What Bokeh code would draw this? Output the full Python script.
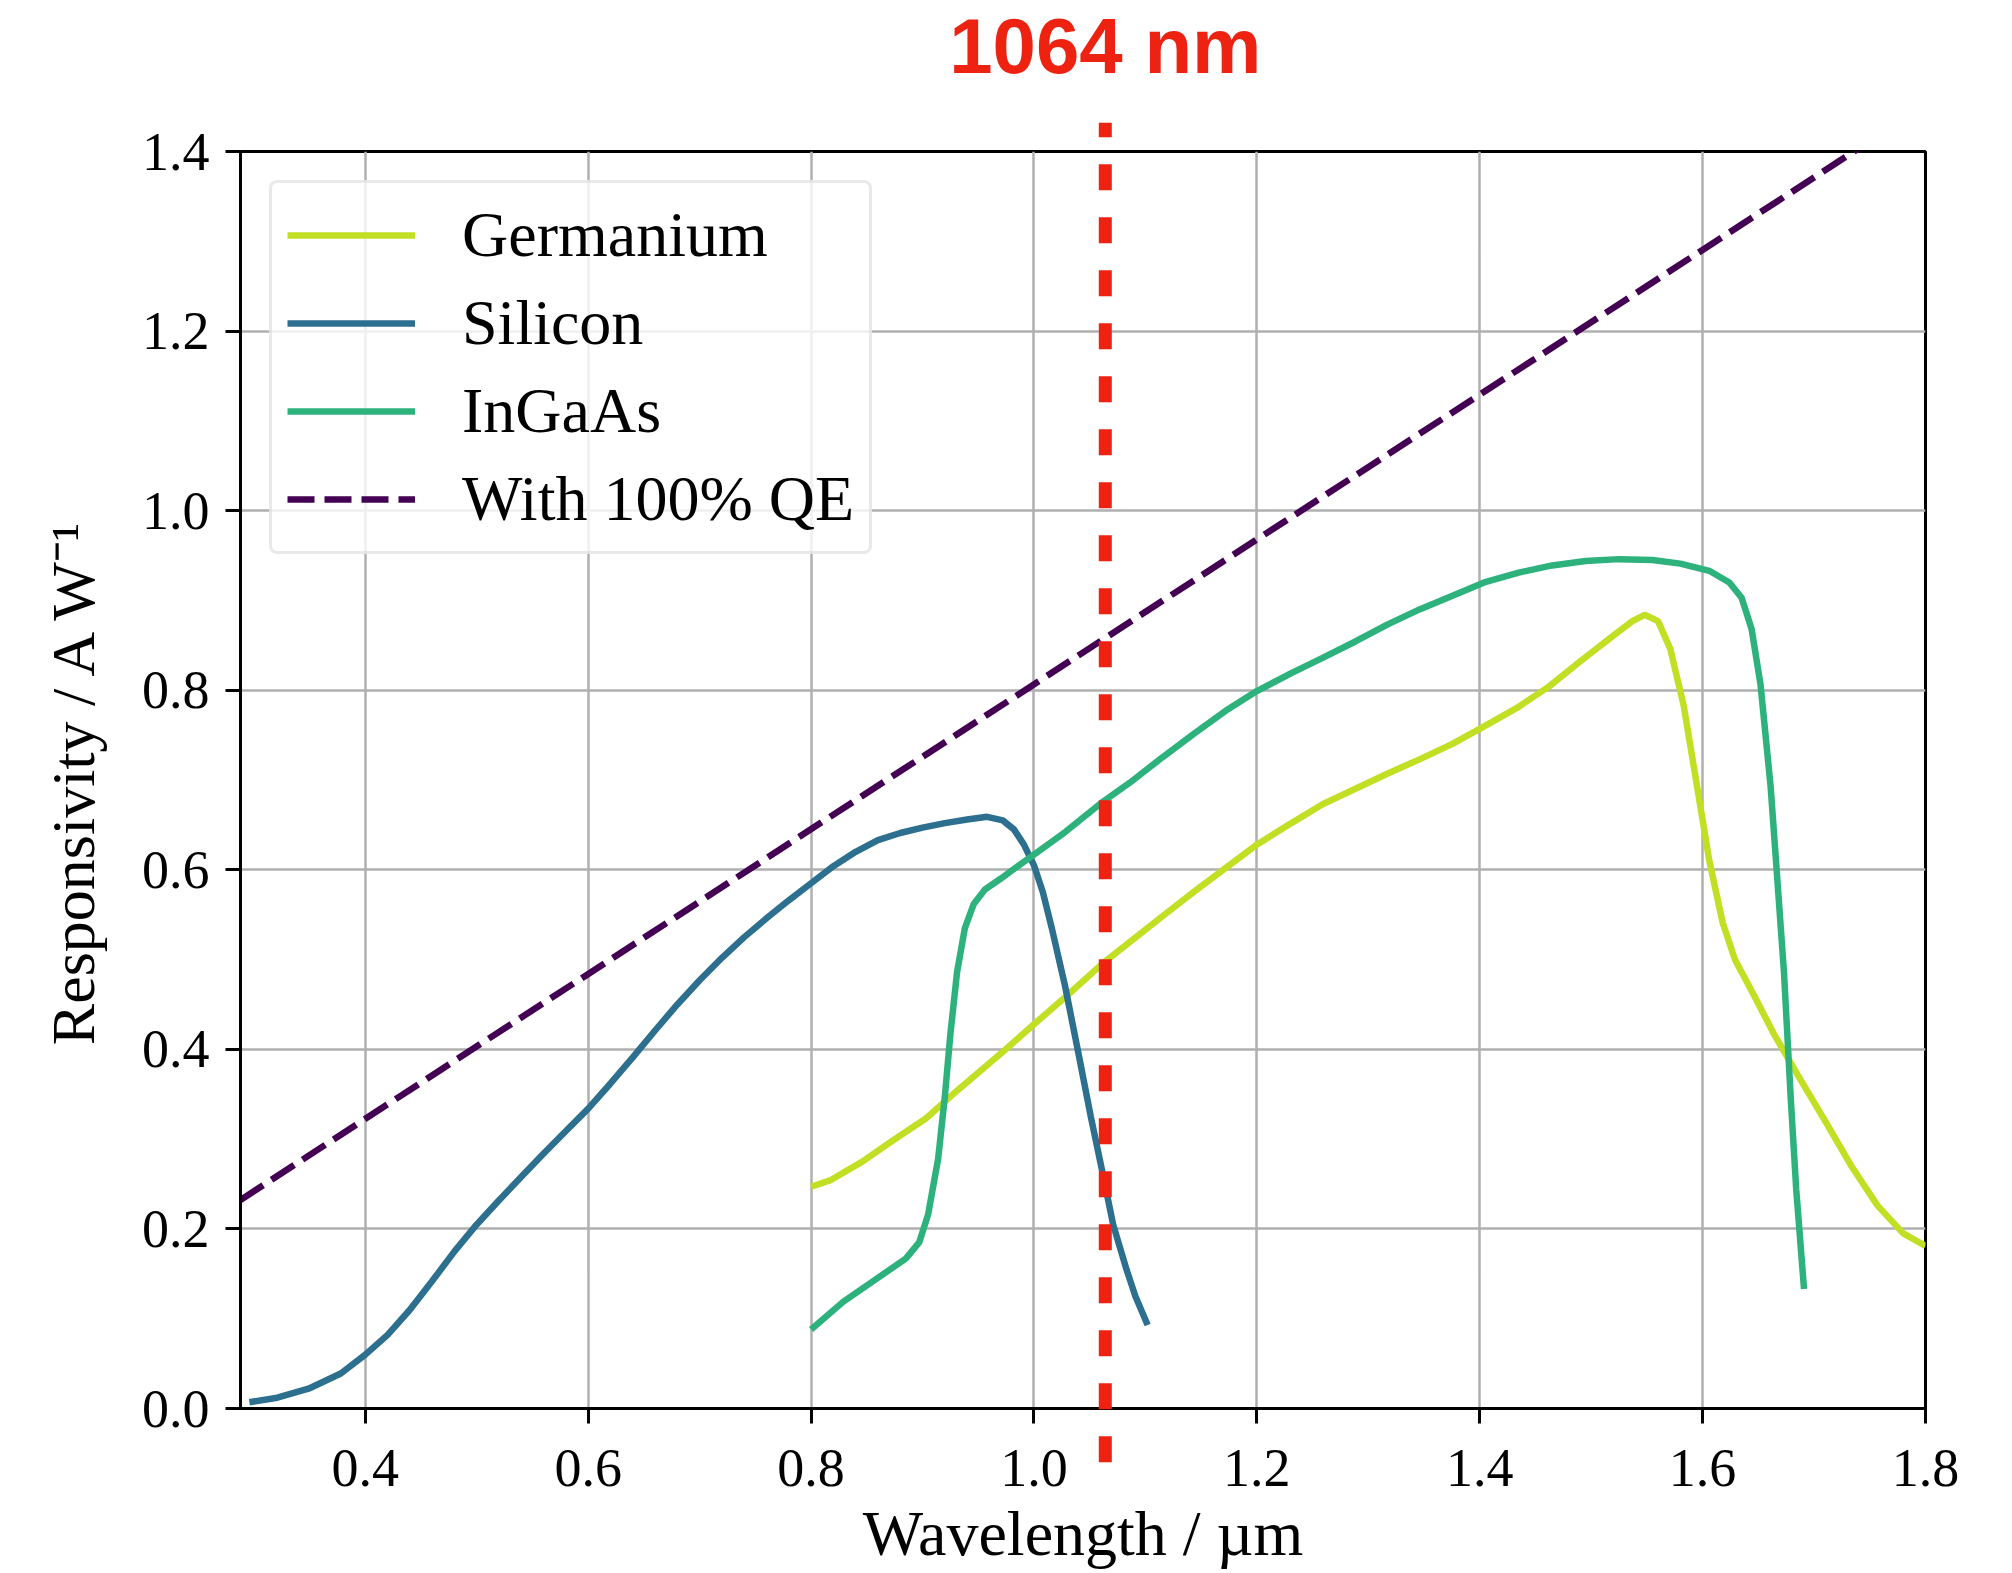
from bokeh.plotting import figure
from bokeh.models import Range1d, FixedTicker, PrintfTickFormatter, Legend, LegendItem
from bokeh.core.properties import value
from bokeh.embed import file_html
from bokeh.resources import INLINE

# ---------------- data ----------------
si_wl = [0.296, 0.321, 0.349, 0.378, 0.400, 0.420, 0.440, 0.460, 0.480, 0.500, 0.520,
         0.540, 0.560, 0.580, 0.600, 0.620, 0.640, 0.660, 0.680, 0.700, 0.720, 0.740,
         0.760, 0.780, 0.800, 0.820, 0.840, 0.860, 0.880, 0.900, 0.920, 0.940, 0.958,
         0.972, 0.982, 0.991, 1.000, 1.008, 1.016, 1.028, 1.040, 1.051, 1.062, 1.071,
         1.083, 1.091, 1.102]
si_resp = [0.007, 0.012, 0.022, 0.039, 0.060, 0.082, 0.110, 0.142, 0.175, 0.205, 0.232,
           0.258, 0.284, 0.309, 0.334, 0.362, 0.391, 0.421, 0.450, 0.477, 0.502, 0.525,
           0.546, 0.566, 0.585, 0.604, 0.620, 0.633, 0.641, 0.647, 0.652, 0.656, 0.659,
           0.655, 0.645, 0.628, 0.605, 0.575, 0.535, 0.470, 0.395, 0.325, 0.260, 0.205,
           0.155, 0.125, 0.093]

ingaas_wl = [0.800, 0.829, 0.857, 0.885, 0.897, 0.905, 0.914, 0.920, 0.925, 0.931, 0.938,
             0.946, 0.956, 0.970, 1.000, 1.028, 1.062, 1.086, 1.115, 1.144, 1.172, 1.200,
             1.231, 1.259, 1.288, 1.317, 1.346, 1.375, 1.404, 1.435, 1.465, 1.495, 1.525,
             1.555, 1.580, 1.606, 1.624, 1.635, 1.644, 1.652, 1.661, 1.667, 1.673, 1.679,
             1.684, 1.691]
ingaas_resp = [0.088, 0.119, 0.143, 0.167, 0.185, 0.216, 0.278, 0.347, 0.417, 0.486, 0.535,
               0.562, 0.578, 0.590, 0.617, 0.642, 0.676, 0.697, 0.725, 0.752, 0.777, 0.799,
               0.819, 0.836, 0.854, 0.873, 0.890, 0.905, 0.920, 0.931, 0.939, 0.944, 0.946,
               0.945, 0.941, 0.933, 0.920, 0.903, 0.868, 0.806, 0.693, 0.590, 0.486, 0.347,
               0.244, 0.133]

ge_wl = [0.800, 0.817, 0.846, 0.874, 0.903, 0.931, 0.970, 1.000, 1.028, 1.062, 1.115,
         1.144, 1.200, 1.231, 1.259, 1.317, 1.346, 1.375, 1.400, 1.433, 1.462, 1.490,
         1.519, 1.537, 1.548, 1.560, 1.571, 1.583, 1.595, 1.606, 1.618, 1.629, 1.647,
         1.664, 1.687, 1.710, 1.733, 1.757, 1.780, 1.800]
ge_resp = [0.247, 0.254, 0.275, 0.299, 0.323, 0.354, 0.395, 0.428, 0.458, 0.496, 0.548,
           0.576, 0.628, 0.652, 0.673, 0.707, 0.723, 0.740, 0.757, 0.780, 0.804, 0.832,
           0.860, 0.877, 0.884, 0.877, 0.846, 0.783, 0.693, 0.610, 0.541, 0.500, 0.458,
           0.417, 0.368, 0.320, 0.271, 0.226, 0.195, 0.181]

qe_wl = [0.288, 1.745]
qe_resp = [0.2323, 1.4074]

laser_wl = [1.064, 1.064]
laser_span = [-0.060, 1.432]
laser_label_x = [1.064]
laser_label_y = [1.518]
laser_text = ["1064 nm"]

x_ticks = [0.4, 0.6, 0.8, 1.0, 1.2, 1.4, 1.6, 1.8]
y_ticks = [0.0, 0.2, 0.4, 0.6, 0.8, 1.0, 1.2, 1.4]

# ---------------- figure ----------------
SERIF = "Liberation Serif"

p = figure(width=2012, height=1573, output_backend="svg", toolbar_location=None,
           x_range=Range1d(0.288, 1.8), y_range=Range1d(0.0, 1.4),
           min_border_left=240, min_border_right=87, min_border_top=151,
           min_border_bottom=165)

p.background_fill_color = "white"
p.border_fill_color = "white"
p.outline_line_color = "black"
p.outline_line_width = 3

p.xaxis.ticker = FixedTicker(ticks=x_ticks)
p.yaxis.ticker = FixedTicker(ticks=y_ticks)
p.xaxis.formatter = PrintfTickFormatter(format="%.1f")
p.yaxis.formatter = PrintfTickFormatter(format="%.1f")

for ax in (p.xaxis, p.yaxis):
    ax.axis_line_color = "black"
    ax.axis_line_width = 3
    ax.major_tick_line_color = "black"
    ax.major_tick_line_width = 3
    ax.major_tick_out = 15
    ax.major_tick_in = 0
    ax.minor_tick_line_color = None
    ax.major_label_text_font = SERIF
    ax.major_label_text_font_size = "54px"
    ax.major_label_text_color = "black"
    ax.axis_label_text_font = SERIF
    ax.axis_label_text_font_style = "normal"
    ax.axis_label_text_color = "black"

p.xaxis.axis_label = "Wavelength / µm"
p.yaxis.axis_label = "Responsivity / A W⁻¹"
p.xaxis.axis_label_text_font_size = "64px"
p.yaxis.axis_label_text_font_size = "62px"
p.xaxis.major_label_standoff = 26
p.yaxis.major_label_standoff = 16
p.xaxis.axis_label_standoff = 9
p.yaxis.axis_label_standoff = 32

p.grid.grid_line_color = "#b0b0b0"
p.grid.grid_line_width = 2.5
p.xgrid.ticker = FixedTicker(ticks=x_ticks)
p.ygrid.ticker = FixedTicker(ticks=y_ticks)

LW = 6.5
r_ge = p.line(ge_wl, ge_resp, line_color="#c2df23", line_width=LW)
r_si = p.line(si_wl, si_resp, line_color="#2c6f8e", line_width=LW)
r_in = p.line(ingaas_wl, ingaas_resp, line_color="#2db27d", line_width=LW)
r_qe = p.line(qe_wl, qe_resp, line_color="#440154", line_width=LW, line_dash="27 10")

# 1064 nm marker (drawn beyond the frame)
p.line(laser_wl, laser_span, line_color="#ee2211", line_width=13,
       line_dash="26 27", level="overlay")
p.text(x=laser_label_x, y=laser_label_y, text=laser_text, text_align="center",
       text_baseline="alphabetic", text_font=value("Liberation Sans"),
       text_font_style="bold", text_font_size="78px", text_color="#ee2211",
       level="overlay")

legend = Legend(items=[
    LegendItem(label="Germanium", renderers=[r_ge]),
    LegendItem(label="Silicon", renderers=[r_si]),
    LegendItem(label="InGaAs", renderers=[r_in]),
    LegendItem(label="With 100% QE", renderers=[r_qe]),
], location="top_left")
legend.margin = 29
legend.padding = 15
legend.spacing = 14
legend.glyph_width = 128
legend.glyph_height = 74
legend.label_height = 74
legend.label_standoff = 47
legend.label_text_font = SERIF
legend.label_text_font_size = "64px"
legend.label_text_color = "black"
legend.label_text_baseline = "middle"
legend.background_fill_color = "white"
legend.background_fill_alpha = 0.8
legend.border_line_color = "#d4d4d4"
legend.border_line_width = 3
try:
    legend.border_radius = 8
except Exception:
    pass
p.add_layout(legend)

open("out.html", "w").write(file_html(p, INLINE))
